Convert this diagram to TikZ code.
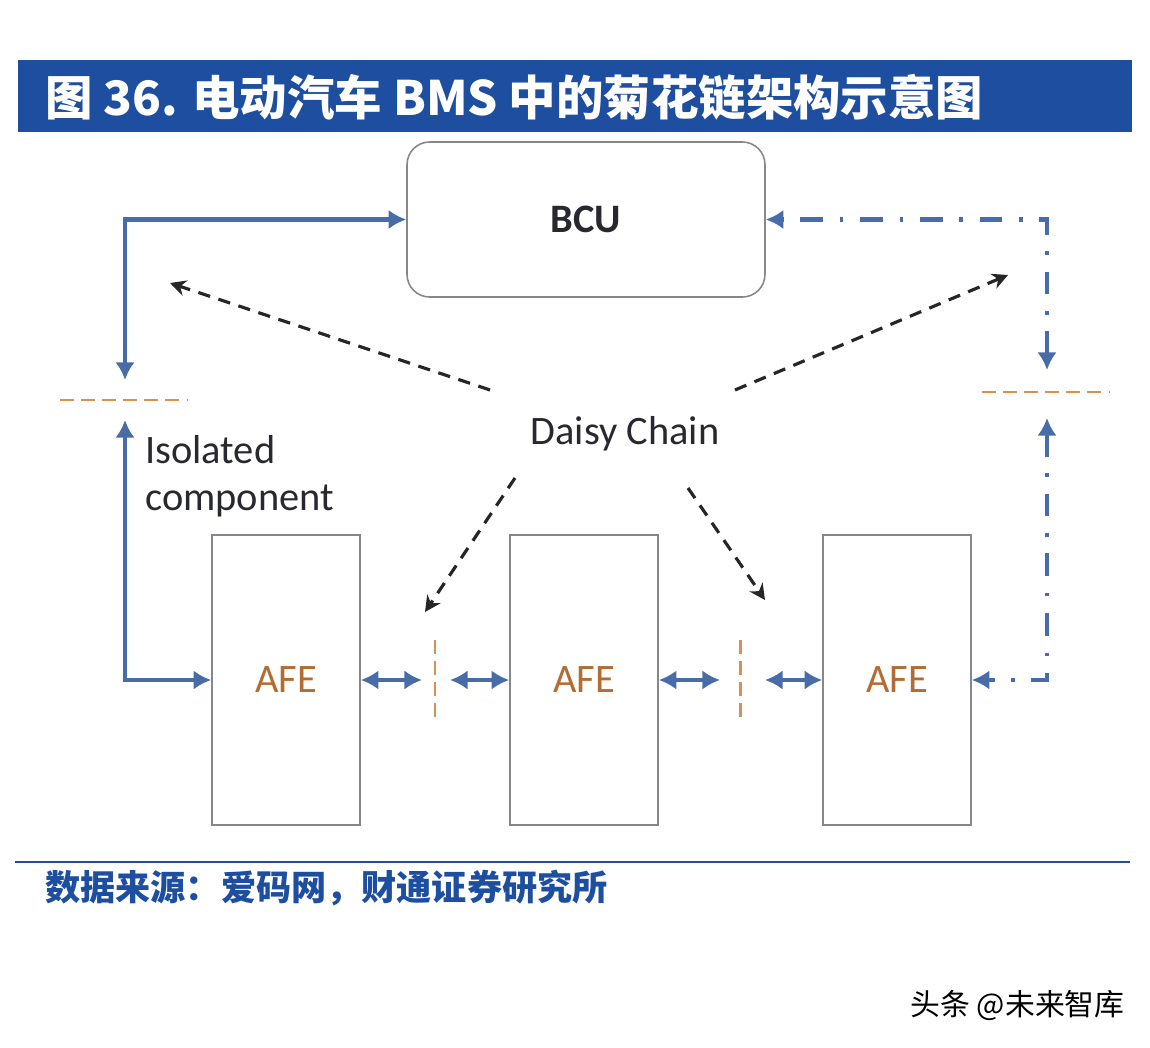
\documentclass[tikz,border=0pt]{standalone}
\usepackage{fontspec}
\setmainfont{Carlito}
\newfontfamily\cjk{Noto Sans CJK SC}
\usetikzlibrary{arrows.meta,calc}

\definecolor{titleblue}{RGB}{30,78,160}
\definecolor{linkblue}{RGB}{72,108,168}
\definecolor{isoorange}{RGB}{214,146,82}
\definecolor{afebrown}{RGB}{178,108,52}
\definecolor{boxgray}{RGB}{135,135,135}
\definecolor{labeltext}{RGB}{40,40,48}

\tikzset{
  unitbox/.style={draw=boxgray, line width=0.9pt, fill=white, font=\fontsize{23}{27}\selectfont},
  bluelink/.style={draw=linkblue, line width=2.3pt, {Latex[length=10pt,width=11pt]}-{Latex[length=10pt,width=11pt]}},
  dotlink/.style={draw=linkblue, line width=2.4pt, dash pattern=on 13pt off 9.5pt on 2pt off 9.5pt, {Latex[length=10pt,width=11pt]}-{Latex[length=10pt,width=11pt]}},
  chainarrow/.style={draw=black!85, line width=1.8pt, dash pattern=on 7pt off 5pt, -{Stealth[length=9pt,width=9pt]}},
  isoline/.style={draw=isoorange, line width=1.7pt, dash pattern=on 8pt off 4pt},
}

\begin{document}
\begin{tikzpicture}[x=0.02cm, y=-0.02cm]
		\useasboundingbox (0,0) rectangle (1150,1048);
		
		% Title bar
		\fill[titleblue] (18,60) rectangle (1132,132);
		\node[anchor=west, inner sep=0pt, text=white, font=\cjk\bfseries\fontsize{27}{32}\selectfont] (title) at (45,97) {图 36. 电动汽车 BMS 中的菊花链架构示意图};
		
		% BCU and AFE units
		\node[unitbox, rounded corners=0.45cm, minimum width=7.16cm, minimum height=3.1cm, text=labeltext, font=\bfseries\fontsize{23}{27}\selectfont] (bcu) at (586,219.5) {BCU};
		\foreach \i/\x in {1/286,2/584,3/897}
		\node[unitbox, minimum width=2.96cm, minimum height=5.8cm, text=afebrown] (afe\i) at (\x,680) {AFE};
		
		% Labels
		\node[inner sep=0pt, text=labeltext, font=\fontsize{23}{27}\selectfont] (daisy) at (625,434) {Daisy Chain};
		\node[anchor=north west, inner sep=0pt, align=left, text=labeltext, font=\fontsize{23}{27}\selectfont] (iso) at (145,435) {Isolated\\component};
		
		% Gaps and arrow ends
		\coordinate (lgapup) at (125,380);
		\coordinate (lgapdown) at (125,420);
		\coordinate (rgapup) at (1047,370);
		\coordinate (rgapdown) at (1047,418);
		\coordinate (sep1) at (435,680);
		\coordinate (sep2) at (740,680);
		\coordinate (tipA) at (170,283);
		\coordinate (tipB) at (1008,275);
		\coordinate (tipC) at (425,612);
		\coordinate (tipD) at (765,600);
		
		% Isolation barriers
		\draw[isoline] (60,400) -- (188,400);
		\draw[isoline] (982,392) -- (1110,392);
		\draw[isoline] (sep1) ++(0,-40) -- ++(0,80);
		\draw[isoline] (sep2) ++(0,-40) -- ++(0,80);
		
		% Links to BCU
		\draw[bluelink] (lgapup) |- (bcu.west);
		\draw[bluelink] (lgapdown) |- (afe1.west);
		\draw[dotlink] (rgapup) |- (bcu.east);
		\draw[dotlink] (rgapdown) |- (afe3.east);
		
		% Links between AFEs
		\draw[bluelink, shorten >=0.26cm] (afe1.east) -- (sep1);
		\draw[bluelink, shorten <=0.3cm] (sep1) -- (afe2.west);
		\draw[bluelink, shorten >=0.4cm] (afe2.east) -- (sep2);
		\draw[bluelink, shorten <=0.5cm] (sep2) -- (afe3.west);
		
		% Daisy chain arrows
		\draw[chainarrow] ($(daisy.center)+(-135,-44)$) -- (tipA);
		\draw[chainarrow] ($(daisy.center)+(110,-44)$) -- (tipB);
		\draw[chainarrow] ($(daisy.center)+(-110,44)$) -- (tipC);
		\draw[chainarrow] ($(daisy.center)+(63,54)$) -- (tipD);
		
		% Source and watermark
		\draw[titleblue, line width=1.6pt] (15,862) -- (1130,862);
		\node[anchor=west, inner sep=0pt, text=titleblue, font=\cjk\bfseries\fontsize{20}{24}\selectfont] (source) at (45,888) {数据来源：爱码网，财通证券研究所};
		\node[anchor=east, inner sep=0pt, font=\cjk\fontsize{17}{20}\selectfont] (mark) at (1125,1005) {头条 @未来智库};
	\end{tikzpicture}
\end{document}
